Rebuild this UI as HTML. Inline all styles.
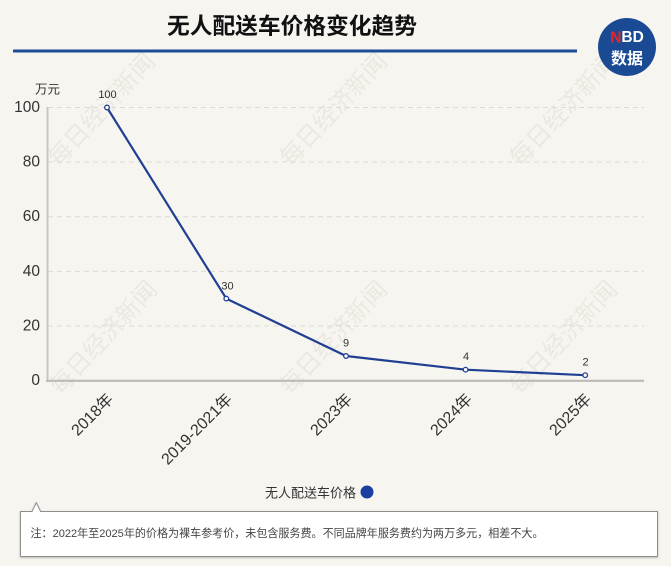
<!DOCTYPE html>
<html><head><meta charset="utf-8"><style>
html,body{margin:0;padding:0;background:#f7f5f0;width:671px;height:566px;overflow:hidden;}
svg{display:block;}
text{font-family:"Liberation Sans","Noto Sans CJK SC",sans-serif;}
</style></head><body>
<svg width="671" height="566" viewBox="0 0 671 566" xmlns="http://www.w3.org/2000/svg" overflow="hidden">
<defs>
<filter id="sh" x="-5%" y="-20%" width="110%" height="150%"><feDropShadow dx="0" dy="1" stdDeviation="1" flood-color="#000" flood-opacity="0.25"/></filter>
<clipPath id="c"><rect width="671" height="566"/></clipPath>
</defs>
<g clip-path="url(#c)">
<rect width="671" height="566" fill="#f7f5f0"/>
<!-- watermarks -->
<g fill="#ebe8e1" font-size="24" style="font-family:'Noto Serif CJK SC',serif" text-anchor="middle" dominant-baseline="central">
<text transform="translate(102,110) rotate(-47)">每日经济新闻</text>
<text transform="translate(334,110) rotate(-47)">每日经济新闻</text>
<text transform="translate(564,110) rotate(-47)">每日经济新闻</text>
<text transform="translate(104,338) rotate(-47)">每日经济新闻</text>
<text transform="translate(334,338) rotate(-47)">每日经济新闻</text>
<text transform="translate(564,338) rotate(-47)">每日经济新闻</text>
</g>
<!-- title -->
<text x="292" y="25" font-size="22.5" font-weight="bold" fill="#111" text-anchor="middle" dominant-baseline="central" textLength="250" lengthAdjust="spacingAndGlyphs" style="font-family:'Noto Sans CJK SC',sans-serif">无人配送车价格变化趋势</text>
<rect x="13" y="49.5" width="564" height="3" fill="#1d4c97"/>
<!-- logo -->
<circle cx="627" cy="47" r="29" fill="#1b4a94"/>
<text x="627" y="37.5" font-size="15.5" font-weight="bold" fill="#fff" text-anchor="middle" dominant-baseline="central"><tspan fill="#e3262b">N</tspan>BD</text>
<text x="627" y="57" font-size="16" font-weight="bold" fill="#fff" text-anchor="middle" dominant-baseline="central" style="font-family:'Noto Sans CJK SC',sans-serif">数据</text>
<!-- grid -->
<g stroke="#dcdad4" stroke-width="1" stroke-dasharray="5,4">
<line x1="48" y1="107.5" x2="644" y2="107.5"/>
<line x1="48" y1="162" x2="644" y2="162"/>
<line x1="48" y1="216.7" x2="644" y2="216.7"/>
<line x1="48" y1="271.4" x2="644" y2="271.4"/>
<line x1="48" y1="326" x2="644" y2="326"/>
</g>
<line x1="47.5" y1="107" x2="47.5" y2="381" stroke="#c9c7c2" stroke-width="2"/>
<line x1="46" y1="380.8" x2="644" y2="380.8" stroke="#bdbbb6" stroke-width="2.2"/>
<!-- y labels -->
<g font-size="15.5" fill="#333" text-anchor="end" dominant-baseline="central">
<text x="40" y="107.5">100</text>
<text x="40" y="162">80</text>
<text x="40" y="216.7">60</text>
<text x="40" y="271.4">40</text>
<text x="40" y="326">20</text>
<text x="40" y="380.5">0</text>
</g>
<text x="47.5" y="88" font-size="12.5" fill="#333" text-anchor="middle" dominant-baseline="central" style="font-family:'Noto Sans CJK SC',sans-serif">万元</text>
<!-- line -->
<polyline points="107,107.5 226.3,298.6 346,356 465.6,369.7 585.2,375.2" fill="none" stroke="#213f92" stroke-width="2.2" stroke-linejoin="round"/>
<g fill="#fff" stroke="#213f92" stroke-width="1.3">
<circle cx="107" cy="107.5" r="2.3"/>
<circle cx="226.3" cy="298.6" r="2.3"/>
<circle cx="346" cy="356" r="2.3"/>
<circle cx="465.6" cy="369.7" r="2.3"/>
<circle cx="585.2" cy="375.2" r="2.3"/>
</g>
<g font-size="11" fill="#333" text-anchor="middle">
<text x="107.5" y="98">100</text>
<text x="227.5" y="289.5">30</text>
<text x="346" y="346.5">9</text>
<text x="466" y="360">4</text>
<text x="585.5" y="365.5">2</text>
</g>
<!-- x labels -->
<g font-size="16" fill="#333" text-anchor="end" dominant-baseline="central">
<text transform="translate(111,397) rotate(-45)">2018年</text>
<text transform="translate(230,397) rotate(-45)">2019-2021年</text>
<text transform="translate(350,397) rotate(-45)">2023年</text>
<text transform="translate(470,397) rotate(-45)">2024年</text>
<text transform="translate(589,397) rotate(-45)">2025年</text>
</g>
<!-- legend -->
<text x="356" y="492" font-size="13" fill="#333" text-anchor="end" dominant-baseline="central" style="font-family:'Noto Sans CJK SC',sans-serif">无人配送车价格</text>
<circle cx="367" cy="492" r="6.5" fill="#1c3ea3"/>
<!-- note box -->
<g filter="url(#sh)">
<path d="M20.5,511.5 H32 L36.3,502.8 L40.6,511.5 H657.5 V556.5 H20.5 Z" fill="#fff" stroke="#8f8d89" stroke-width="1"/>
</g>
<text x="30.5" y="534" font-size="11.3" fill="#444" dominant-baseline="central" textLength="513" lengthAdjust="spacingAndGlyphs">注：2022年至2025年的价格为裸车参考价，未包含服务费。不同品牌年服务费约为两万多元，相差不大。</text>
</g>
</svg>
</body></html>
